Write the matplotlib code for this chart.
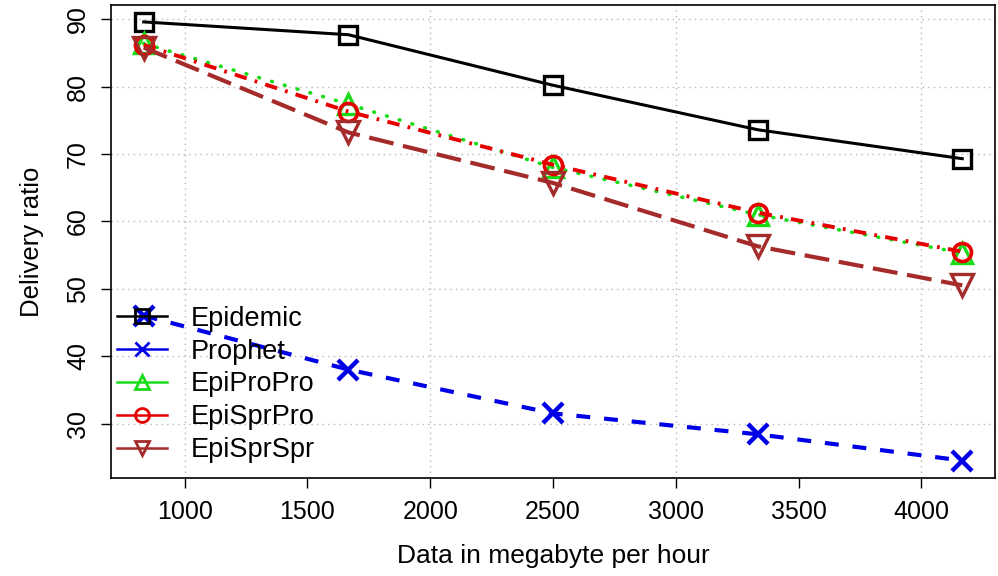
import matplotlib
matplotlib.use("Agg")
import matplotlib.pyplot as plt
from matplotlib.lines import Line2D

plt.rcParams['font.family'] = ['Liberation Sans', 'DejaVu Sans']
plt.rcParams['lines.scale_dashes'] = False

# data
x_vals = [833.3, 1666.7, 2500, 3333.3, 4166.7]
epidemic = [89.6, 87.7, 80.2, 73.6, 69.3]
prophet = [46.0, 38.0, 31.5, 28.4, 24.5]
epi_pro_pro = [86.4, 77.4, 68.0, 61.0, 55.3]
epi_spr_pro = [86.2, 76.3, 68.4, 61.3, 55.5]
epi_spr_spr = [85.8, 73.2, 65.7, 56.3, 50.5]

series_names = ['Epidemic', 'Prophet', 'EpiProPro', 'EpiSprPro', 'EpiSprSpr']
x_ticks = [1000, 1500, 2000, 2500, 3000, 3500, 4000]
y_ticks = [30, 40, 50, 60, 70, 80, 90]

colors = ['black', '#0000e6', '#19dc19', '#e60000', '#a52a2a']
markers = ['s', 'x', '^', 'o', 'v']

fig = plt.figure(figsize=(9.98, 5.76), dpi=100)
ax = fig.add_axes([0.1112, 0.170, 0.8858, 0.8212])

# grid (R style dotted)
grid_kw = dict(color='#b8b8b8', lw=1.0, linestyle=(0, (1, 3)), zorder=0)
for gy in y_ticks:
    ax.axhline(gy, **grid_kw)
for gx in [1000, 2000, 3000, 4000]:
    ax.axvline(gx, **grid_kw)

ax.plot(x_vals, epidemic, color=colors[0], lw=2.2, linestyle='-',
        marker='s', ms=13, mfc='none', mew=2.4)
ax.plot(x_vals, prophet, color=colors[1], lw=3, linestyle=(0, (10, 10)),
        marker='x', ms=14, mew=3.2)
ax.plot(x_vals, epi_pro_pro, color=colors[2], lw=2.6, linestyle=(0, (0.6, 9)),
        dash_capstyle='round', marker='^', ms=15, mfc='none', mew=2.4)
ax.plot(x_vals, epi_spr_pro, color=colors[3], lw=2.8, linestyle=(0, (9, 6, 2, 6)),
        marker='o', ms=13, mfc='none', mew=2.6)
ax.plot(x_vals, epi_spr_spr, color=colors[4], lw=3, linestyle=(0, (18, 7)),
        marker='v', ms=16, mfc='none', mew=2.4)

ax.set_xlim(700, 4300)
ax.set_ylim(21.9, 92.1)
ax.set_xticks(x_ticks)
ax.set_yticks(y_ticks)
ax.tick_params(direction='out', length=7, width=1, labelsize=18)
ax.tick_params(axis='x', pad=9)
ax.tick_params(axis='y', pad=8)
plt.setp(ax.get_yticklabels(), rotation=90, va='center')
for sp in ax.spines.values():
    sp.set_linewidth(1.2)

ax.set_xlabel('Data in megabyte per hour', fontsize=19, labelpad=14)
ax.set_ylabel('Delivery ratio', fontsize=18.5, labelpad=16)

# legend: solid thin lines with small markers, as R's legend() draws them
handles = []
for c, m in zip(colors, markers):
    handles.append(Line2D([], [], color=c, lw=1.8, marker=m, ms=10,
                          mfc='none', mew=2.0))
ax.legend(handles, series_names, loc='upper left', bbox_to_anchor=(0.007, 0.364),
          frameon=False, fontsize=19.5, handlelength=1.85, handletextpad=0.85,
          labelspacing=0.25, borderpad=0, borderaxespad=0)

fig.savefig('out.png', dpi=100)
